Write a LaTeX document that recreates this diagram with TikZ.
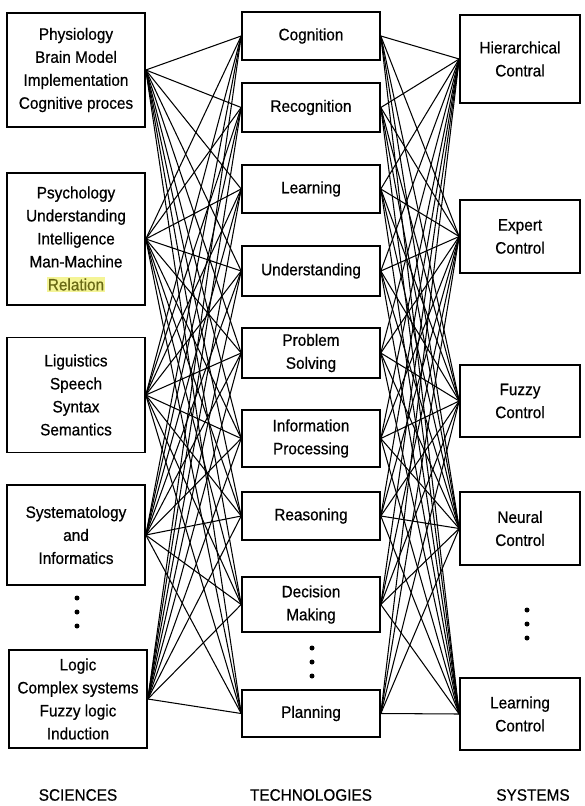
\documentclass[tikz,border=0pt]{standalone}
\usepackage{fontspec}
\setmainfont{Liberation Sans}[FakeStretch=0.93,FakeBold=0.6]
\usepackage{xcolor}
\usepackage{tikz}
\definecolor{hlback}{RGB}{244,244,150}
\definecolor{hltext}{RGB}{105,105,20}

\begin{document}
\begin{tikzpicture}[x=1pt,y=-1pt,
    box/.style={draw, line width=1.6pt, align=center, inner sep=0pt,
        font=\fontsize{16.5}{23}\selectfont},
    link/.style={line width=1.05pt},
    caption/.style={font=\fontsize{16.5}{20}\selectfont}]
\useasboundingbox (0,0) rectangle (584,806);
% Sciences (left column)
\node[box, minimum width=138, minimum height=114] (sci1) at (76,70) {Physiology\\Brain Model\\Implementation\\Cognitive proces};
\node[box, minimum width=138, minimum height=132] (sci2) at (76,239) {Psychology\\Understanding\\Intelligence\\Man-Machine\\{\setlength\fboxsep{1pt}\colorbox{hlback}{\color{hltext}Relation}}};
\node[box, minimum width=138, minimum height=115] (sci3) at (76,395) {Liguistics\\Speech\\Syntax\\Semantics};
\node[box, minimum width=138, minimum height=100] (sci4) at (76,535) {Systematology\\and\\Informatics};
\node[box, minimum width=138, minimum height=98] (sci5) at (78,699) {Logic\\Complex systems\\Fuzzy logic\\Induction};
% Technologies (middle column)
\node[box, minimum width=138, minimum height=48] (tec1) at (311,36) {Cognition};
\node[box, minimum width=138, minimum height=49] (tec2) at (311,107.5) {Recognition};
\node[box, minimum width=138, minimum height=48] (tec3) at (311,189) {Learning};
\node[box, minimum width=138, minimum height=50] (tec4) at (311,271) {Understanding};
\node[box, minimum width=138, minimum height=50] (tec5) at (311,353) {Problem\\Solving};
\node[box, minimum width=138, minimum height=57] (tec6) at (311,438.5) {Information\\Processing};
\node[box, minimum width=138, minimum height=48] (tec7) at (311,516) {Reasoning};
\node[box, minimum width=138, minimum height=55] (tec8) at (311,604.5) {Decision\\Making};
\node[box, minimum width=138, minimum height=47] (tec9) at (311,713.5) {Planning};
% Systems (right column)
\node[box, minimum width=120, minimum height=88] (sys1) at (520,59) {Hierarchical\\Contral};
\node[box, minimum width=120, minimum height=73] (sys2) at (520,236.5) {Expert\\Control};
\node[box, minimum width=120, minimum height=72] (sys3) at (520,401) {Fuzzy\\Control};
\node[box, minimum width=120, minimum height=73] (sys4) at (520,528.5) {Neural\\Control};
\node[box, minimum width=120, minimum height=72] (sys5) at (520,714) {Learning\\Control};
% every science to every technology, every technology to every system
\foreach \s in {1,...,5}
    \foreach \t in {1,...,9}
        \draw[link] (sci\s.east) -- (tec\t.west);
\foreach \t in {1,...,9}
    \foreach \r in {1,...,5}
        \draw[link] (tec\t.east) -- (sys\r.west);
% continuation dots
\foreach \px/\py in {77/598, 312/648, 527/610} {
    \foreach \k in {0,1,2}
        \fill (\px,\py+14*\k) circle (2.5);
}
% column captions
\node[caption] (lsci) at (78,795) {SCIENCES};
\node[caption] (ltec) at (311,795) {TECHNOLOGIES};
\node[caption] (lsys) at (533,795) {SYSTEMS};
\end{tikzpicture}
\end{document}
